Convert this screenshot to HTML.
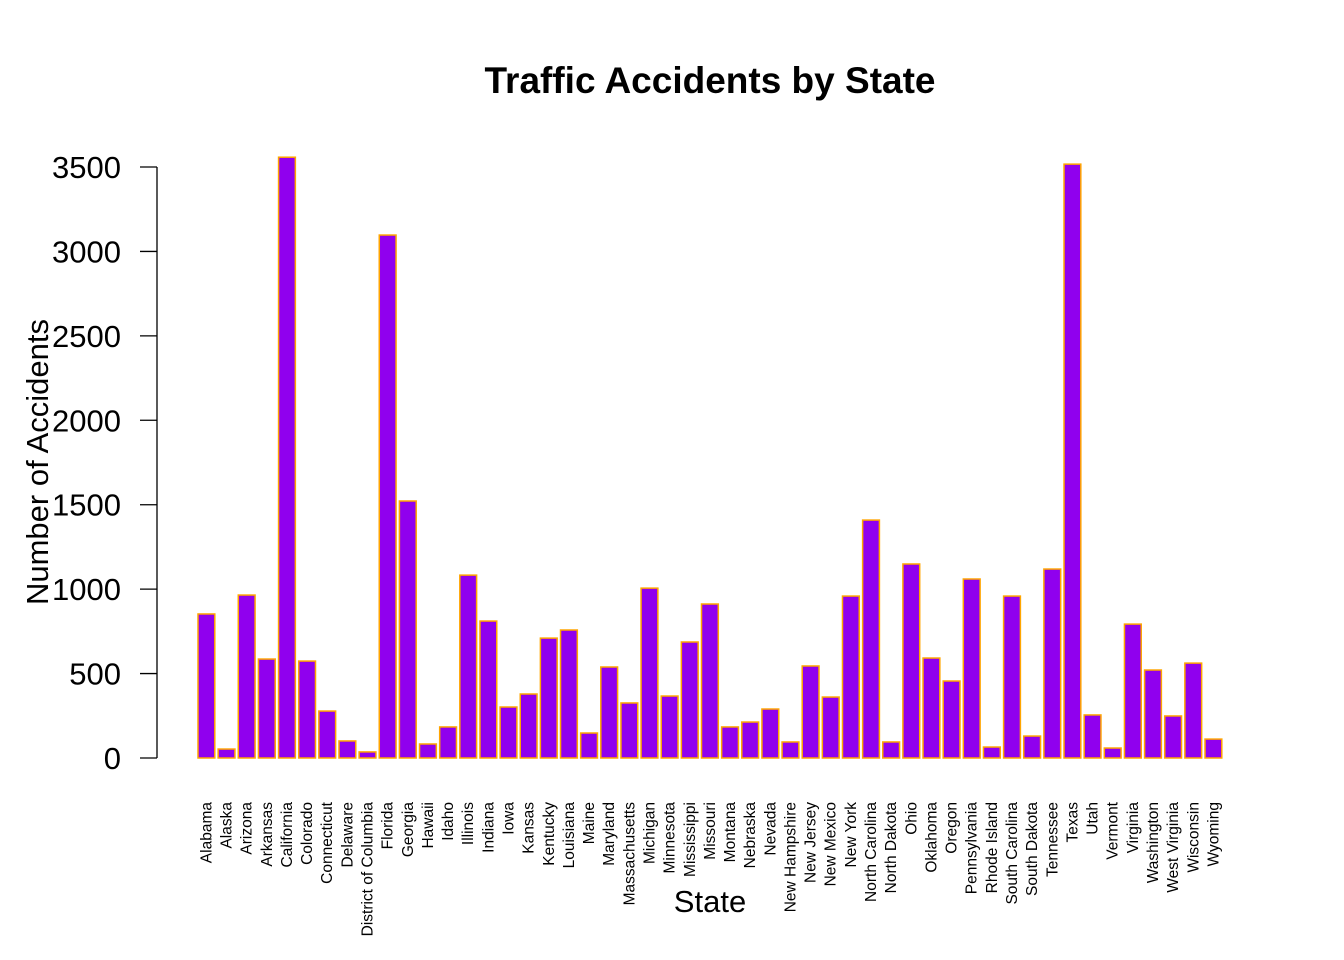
<!DOCTYPE html>
<html><head><meta charset="utf-8"><style>
body{margin:0;background:#fff;}
svg{display:block;font-family:"Liberation Sans",Arial,sans-serif;}
</style></head><body>
<svg id="chart" width="1344" height="960">
<rect width="1344" height="960" fill="#fff"/>
<text x="710" y="93" text-anchor="middle" font-size="37" font-weight="bold">Traffic Accidents by State</text>
<text x="710" y="912" text-anchor="middle" font-size="31">State</text>
<text transform="translate(48,462) rotate(-90)" text-anchor="middle" font-size="31">Number of Accidents</text>
<g id="yaxis"></g>
<g id="bars"></g>
<g id="xlabels"></g>
</svg>
<script>
const states=["Alabama","Alaska","Arizona","Arkansas","California","Colorado","Connecticut","Delaware","District of Columbia","Florida","Georgia","Hawaii","Idaho","Illinois","Indiana","Iowa","Kansas","Kentucky","Louisiana","Maine","Maryland","Massachusetts","Michigan","Minnesota","Mississippi","Missouri","Montana","Nebraska","Nevada","New Hampshire","New Jersey","New Mexico","New York","North Carolina","North Dakota","Ohio","Oklahoma","Oregon","Pennsylvania","Rhode Island","South Carolina","South Dakota","Tennessee","Texas","Utah","Vermont","Virginia","Washington","West Virginia","Wisconsin","Wyoming"];
const accidents=[853,53,965,586,3558,574,278,101,36,3097,1522,83,184,1083,811,302,379,710,758,148,539,326,1006,367,687,912,184,213,290,95,545,361,959,1409,95,1149,592,456,1060,65,959,130,1119,3517,255,59,793,521,249,562,112];
const yTicks=[0,500,1000,1500,2000,2500,3000,3500];
const NS="http://www.w3.org/2000/svg";
function y(v){return 758-v*(591/3500);}
const pitch=20.14, bw=16.8, x0=198;
function x(i){return x0+i*pitch;}
function mk(t,a,p){const e=document.createElementNS(NS,t);for(const k in a)e.setAttribute(k,a[k]);p.appendChild(e);return e;}
const ya=document.getElementById('yaxis');
const axl=mk('line',{x1:157,x2:157,y1:y(0),y2:y(3500),stroke:'#000','stroke-width':1.3},ya);


yTicks.forEach(t=>{
  const l=mk('line',{x1:140,x2:157,y1:y(t),y2:y(t),stroke:'#000','stroke-width':1.3},ya);
  
  
  const tx=mk('text',{x:121,y:y(t)+11,'text-anchor':'end','font-size':31},ya);
  tx.textContent=t;
  
  
});
const bars=document.getElementById('bars'), xl=document.getElementById('xlabels');
states.forEach((s,i)=>{
  const v=accidents[i];
  const r=mk('rect',{x:x(i),y:y(v),width:bw,height:y(0)-y(v),fill:'#9000EE',stroke:'#FFA500','stroke-width':1.5},bars);
  
  
  const cx=x(i)+bw/2+5;
  const t=mk('text',{transform:`translate(${cx},802) rotate(-90)`,'text-anchor':'end','font-size':15.5},xl);
  t.textContent=s;
  
  
});
</script>
</body></html>
